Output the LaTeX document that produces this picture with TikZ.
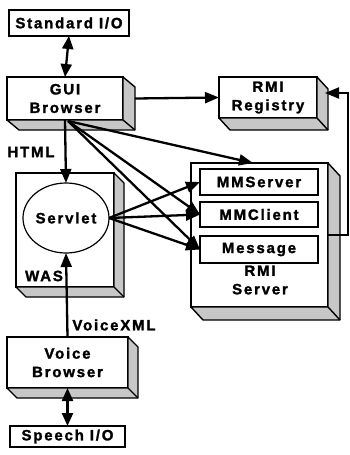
\documentclass[tikz,border=0pt]{standalone}
\usepackage{fontspec}
\newfontfamily\lbl{Liberation Sans Bold}[LetterSpace=12,FakeBold=1.6]
\usetikzlibrary{arrows.meta,calc,shapes.geometric}
\newcommand\depthfaces[3]{%
  \filldraw[sideface] (#1.north east) -- ++(#2,#3) -- ($(#1.south east)+(#2,#3)$) -- ($(#1.south west)+(#2,#3)$) -- (#1.south west) -- (#1.south east) -- cycle;
  \draw[sideface] (#1.south east) -- ++(#2,#3);
}
\begin{document}
\begin{tikzpicture}[x=1pt,y=-1pt,
  txt/.style={font=\lbl\fontsize{15}{18.5}\selectfont, align=center},
  front/.style={draw, line width=1.6pt, fill=white, inner sep=0pt, outer sep=0pt, txt},
  io/.style={front, line width=2.4pt},
  conn/.style={line width=2.3pt, -{Triangle[length=14pt,width=11pt]}},
  both/.style={line width=2.3pt, {Triangle[length=13pt,width=11pt]}-{Triangle[length=13pt,width=11pt]}},
  sideface/.style={fill=black!22, draw, line width=1.4pt, line join=round}
]
\useasboundingbox (0,0) rectangle (350,455);

% boxes
\node[io, minimum width=120pt, minimum height=26pt] (std) at (69,23) {Standard I/O};

\node[front, minimum width=116pt, minimum height=43pt] (gui) at (65,98.5) {GUI\\Browser};
\depthfaces{gui}{12}{10}

\node[front, minimum width=98pt, minimum height=41pt] (reg) at (268,97.5) {RMI\\Registry};
\depthfaces{reg}{11}{12}

\node[front, minimum width=98pt, minimum height=114pt] (was) at (65,230) {};
\depthfaces{was}{10}{10}
\node[draw, ellipse, line width=1.2pt, fill=white, minimum width=82pt, minimum height=70pt, inner sep=0pt, outer sep=0pt, txt] (servlet) at (66,218) {Servlet};
\node[txt] (waslbl) at (44,276) {WAS};

\node[front, minimum width=137pt, minimum height=144pt] (rmi) at (259.5,235) {};
\depthfaces{rmi}{12}{13}
\node[front, line width=1.4pt, minimum width=118pt, minimum height=26pt] (mms) at (259,182) {MMServer};
\node[front, line width=1.4pt, minimum width=118pt, minimum height=25pt] (mmc) at (259,214.5) {MMClient};
\node[front, line width=1.4pt, minimum width=118pt, minimum height=27pt] (msg) at (259,249.5) {Message};
\node[txt] (rmilbl) at (260,280) {RMI\\Server};

\node[front, minimum width=121pt, minimum height=51pt] (voice) at (67.5,362.5) {Voice\\Browser};
\depthfaces{voice}{10}{10}

\node[io, minimum width=115pt, minimum height=21pt] (speech) at (67.5,436.5) {Speech I/O};

% labels
\node[txt] (html) at (31,152) {HTML};
\node[txt] (vxml) at (114,325) {VoiceXML};

% connectors
\draw[both] (std.south) -- (gui.north);
\draw[conn] ([xshift=12pt]gui.east) -- (reg.west);
\draw[conn] (gui.south) -- (servlet.north);
\coordinate (gfan) at (68,121);
\coordinate (rmitop) at (253,163);
\draw[conn] (gfan) -- (rmitop);
\draw[conn] (gfan) -- (mmc.west);
\draw[conn] (gfan) -- (msg.west);
\draw[conn] (servlet.east) -- (mms.west);
\draw[conn] (servlet.east) -- (mmc.west);
\draw[conn] (servlet.east) -- (msg.west);
\draw[conn] (voice.north) -- (servlet.south);
\draw[both] (voice.south) -- (speech.north);
\coordinate (rout) at (328,235);
\coordinate (rbend) at (348,235);
\coordinate (rin) at (325,93);
\draw[conn, line width=1.8pt] (rout) -- (rbend) |- (rin);
\end{tikzpicture}
\end{document}
